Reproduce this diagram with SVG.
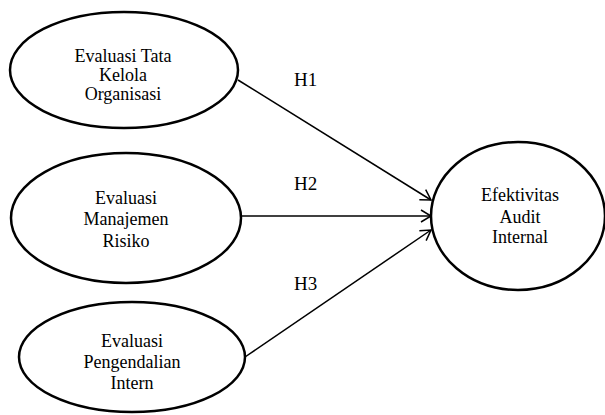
<svg xmlns="http://www.w3.org/2000/svg" width="605" height="415" viewBox="0 0 605 415">
<style>
.n{fill:#fff;stroke:#000;stroke-width:2.5}
.t{font-family:"Liberation Serif",serif;font-size:18px;text-anchor:middle;fill:#000}
.h{font-family:"Liberation Serif",serif;font-size:19px;fill:#000}
.c{stroke:#000;stroke-width:1.5;fill:none;marker-end:url(#a)}
</style>
<defs>
<marker id="a" markerWidth="14" markerHeight="14" refX="12" refY="7" orient="auto" markerUnits="userSpaceOnUse">
<path d="M2,1 L12,7 L2,13" fill="none" stroke="#000" stroke-width="1.5"/>
</marker>
</defs>
<rect width="605" height="415" fill="#fff"/>
<g id="connectors">
<line class="c" x1="238" y1="80" x2="431" y2="200"/>
<line class="c" x1="241" y1="216" x2="431" y2="216"/>
<line class="c" x1="245" y1="357" x2="431" y2="230"/>
<text class="h" x="294" y="86">H1</text>
<text class="h" x="294" y="190">H2</text>
<text class="h" x="294" y="290">H3</text>
</g>
<g id="n1">
<ellipse class="n" cx="124" cy="70" rx="114" ry="58"/>
<text class="t" x="123" y="62">Evaluasi Tata</text>
<text class="t" x="123" y="81">Kelola</text>
<text class="t" x="123" y="100">Organisasi</text>
</g>
<g id="n2">
<ellipse class="n" cx="126" cy="218" rx="115" ry="65"/>
<text class="t" x="126" y="204">Evaluasi</text>
<text class="t" x="126" y="225">Manajemen</text>
<text class="t" x="126" y="247">Risiko</text>
</g>
<g id="n3">
<ellipse class="n" cx="132" cy="357" rx="113" ry="55"/>
<text class="t" x="132" y="347">Evaluasi</text>
<text class="t" x="132" y="368">Pengendalian</text>
<text class="t" x="132" y="389">Intern</text>
</g>
<g id="n4">
<ellipse class="n" cx="518" cy="216" rx="87" ry="74"/>
<text class="t" x="520" y="201">Efektivitas</text>
<text class="t" x="520" y="223">Audit</text>
<text class="t" x="520" y="243">Internal</text>
</g>
</svg>
